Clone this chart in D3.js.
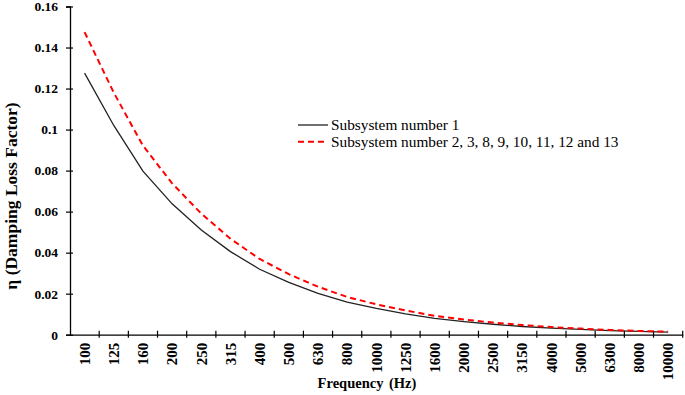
<!DOCTYPE html>
<html>
<head>
<meta charset="utf-8">
<script src="https://cdn.jsdelivr.net/npm/d3@7"></script>
<style>
  body { margin: 0; background: #fff; }
  svg text { font-family: "Liberation Serif", "DejaVu Serif", serif; }
</style>
</head>
<body>
<div id="chart"></div>
<script>
// Damping loss factor vs frequency

const width = 685,
    height = 395,
    margin = ({ top: 6.5, right: 2.3, bottom: 60.3, left: 70 });

// one-third octave bands
const frequencies = ["100", "125", "160", "200", "250", "315", "400", "500", "630", "800",
  "1000", "1250", "1600", "2000", "2500", "3150", "4000", "5000", "6300", "8000", "10000"];

const subsystem1 = [0.1275, 0.102, 0.0797, 0.0638, 0.051, 0.0405, 0.0319, 0.0255, 0.0202, 0.0159,
  0.0128, 0.0102, 0.008, 0.0064, 0.0051, 0.004, 0.0032, 0.0026, 0.002, 0.0016, 0.0013];

const subsystemOthers = [0.1475, 0.118, 0.0922, 0.0738, 0.059, 0.0468, 0.0369, 0.0295, 0.0234, 0.0184,
  0.0148, 0.0118, 0.0092, 0.0074, 0.0059, 0.0047, 0.0037, 0.003, 0.0023, 0.0018, 0.0015];

const yTicks = [0, 0.02, 0.04, 0.06, 0.08, 0.1, 0.12, 0.14, 0.16];

const seriesNames = ["Subsystem number 1", "Subsystem number 2, 3, 8, 9, 10, 11, 12 and 13"];

const svg = d3.select("#chart")
  .append("svg")
  .attr("width", width)
  .attr("height", height);

const x = d3.scaleBand()
  .domain(frequencies)
  .range([margin.left, width - margin.right])
  .padding(0);

const y = d3.scaleLinear()
  .domain([0, 0.16])
  .range([height - margin.bottom, margin.top]);

// y axis
const yAxis = svg.append("g")
  .attr("transform", `translate(${margin.left},0)`)
  .call(d3.axisLeft(y).tickValues(yTicks).tickSize(4).tickPadding(8)
    .tickFormat(d => String(+d.toFixed(2))));
yAxis.attr("font-family", null);
yAxis.select(".domain").attr("stroke-width", 1.3);
yAxis.selectAll(".tick line").attr("x1", 3).attr("x2", -4).attr("stroke-width", 1.2);
yAxis.selectAll(".tick text")
  .attr("font-size", 13.5)
  .attr("font-weight", "bold")
  .attr("fill", "#000");

// x axis: labels at band centres, ticks at band edges
const xAxis = svg.append("g")
  .attr("transform", `translate(0,${height - margin.bottom})`)
  .call(d3.axisBottom(x).tickSize(0).tickSizeOuter(0).tickFormat(""));
xAxis.attr("font-family", null);
xAxis.select(".domain").attr("stroke-width", 1.3);

const edges = frequencies.map(f => x(f)).concat([x.range()[1]]);
xAxis.selectAll(".edge")
  .data(edges.slice(1))
  .join("line")
  .attr("class", "edge")
  .attr("x1", d => d).attr("x2", d => d)
  .attr("y1", -4).attr("y2", 3)
  .attr("stroke", "#000")
  .attr("stroke-width", 1.2);

xAxis.selectAll(".xlab")
  .data(frequencies)
  .join("text")
  .attr("class", "xlab")
  .attr("transform", d => `translate(${x(d) + x.bandwidth() / 2},8) rotate(-90)`)
  .attr("dy", "0.35em")
  .attr("text-anchor", "end")
  .attr("font-size", 15)
  .attr("font-weight", "bold")
  .attr("fill", "#000")
  .text(d => d);

// axis titles
svg.append("text")
  .attr("x", 367)
  .attr("y", 388)
  .attr("text-anchor", "middle")
  .attr("font-size", 14.5)
  .attr("font-weight", "bold")
  .attr("word-spacing", 2)
  .text("Frequency (Hz)");

svg.append("text")
  .attr("transform", "translate(17,196) rotate(-90)")
  .attr("text-anchor", "middle")
  .attr("font-size", 17.5)
  .attr("font-weight", "bold")
  .text("η (Damping Loss Factor)");

// lines
const line = d3.line()
  .x((d, i) => x(frequencies[i]) + x.bandwidth() / 2)
  .y(d => y(d));

svg.append("path")
  .datum(subsystem1)
  .attr("fill", "none")
  .attr("stroke", "#222")
  .attr("stroke-width", 1.3)
  .attr("d", line);

svg.append("path")
  .datum(subsystemOthers)
  .attr("fill", "none")
  .attr("stroke", "#ff0000")
  .attr("stroke-width", 2)
  .attr("stroke-dasharray", "6,4")
  .attr("d", line);

// legend
const legend = svg.append("g").attr("transform", "translate(298,0)");
const legendStyles = [
  { stroke: "#222", width: 1.3, dash: null },
  { stroke: "#ff0000", width: 2, dash: "6,4" }
];
const rows = legend.selectAll("g")
  .data(seriesNames)
  .join("g")
  .attr("transform", (d, i) => `translate(0,${125 + i * 16.7})`);

rows.append("line")
  .attr("x1", 0).attr("x2", 30)
  .attr("stroke", (d, i) => legendStyles[i].stroke)
  .attr("stroke-width", (d, i) => legendStyles[i].width)
  .attr("stroke-dasharray", (d, i) => legendStyles[i].dash);

rows.append("text")
  .attr("x", 33)
  .attr("dy", "0.33em")
  .attr("font-size", 15.3)
  .attr("fill", "#000")
  .text(d => d);
</script>
</body>
</html>
